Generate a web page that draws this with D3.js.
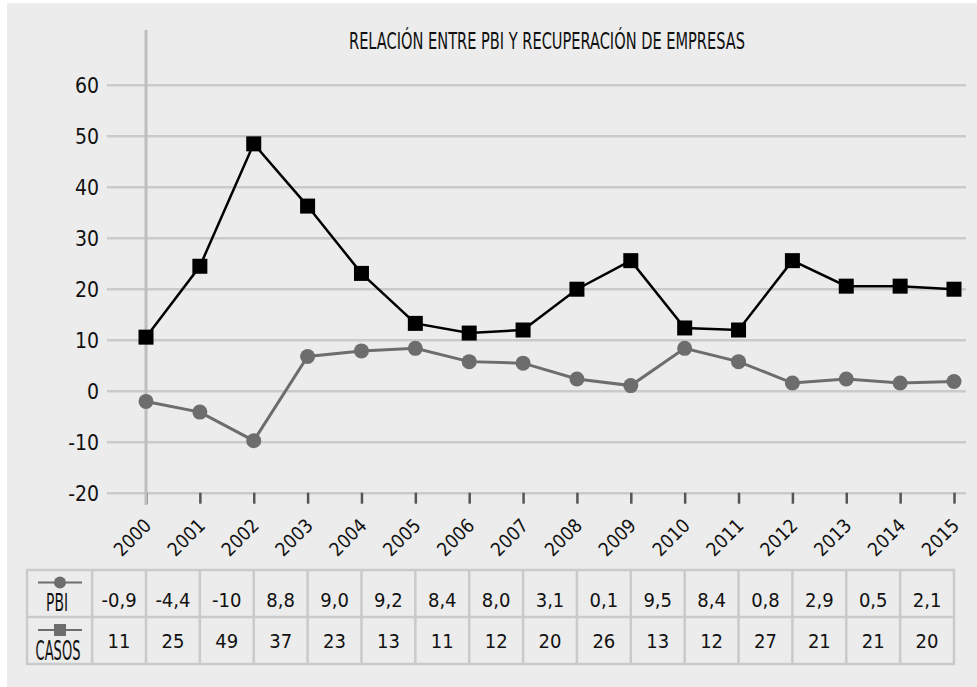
<!DOCTYPE html>
<html lang="es">
<head>
<meta charset="UTF-8">
<title>Relación entre PBI y recuperación de empresas</title>
<style>
  html, body { margin: 0; padding: 0; background: #fff; }
  svg text { font-family: "Liberation Sans Narrow", "DejaVu Sans Condensed", "Roboto", sans-serif; fill: #111; }
</style>
</head>
<body>
<script src="https://cdn.jsdelivr.net/npm/d3@7"></script>
<script>
  // datos
  const years = [2000, 2001, 2002, 2003, 2004, 2005, 2006, 2007, 2008, 2009, 2010, 2011, 2012, 2013, 2014, 2015]
  // valores dibujados en el gráfico
  const casos = [10.5, 24.4, 48.4, 36.2, 23, 13.2, 11.3, 11.9, 19.9, 25.5, 12.3, 11.9, 25.5, 20.5, 20.5, 19.9]
  const pbi = [-2.1, -4.2, -9.8, 6.7, 7.8, 8.3, 5.7, 5.4, 2.3, 1.0, 8.3, 5.7, 1.5, 2.3, 1.5, 1.8]
  // valores de la tabla
  const pbiTabla = ['-0,9', '-4,4', '-10', '8,8', '9,0', '9,2', '8,4', '8,0', '3,1', '0,1', '9,5', '8,4', '0,8', '2,9', '0,5', '2,1']
  const casosTabla = ['11', '25', '49', '37', '23', '13', '11', '12', '20', '26', '13', '12', '27', '21', '21', '20']
  const yTicks = [-20, -10, 0, 10, 20, 30, 40, 50, 60]
  const title = 'RELACIÓN ENTRE PBI Y RECUPERACIÓN DE EMPRESAS'

  const width = 977, height = 687
  const gridColor = '#c9cacb'
  const grayLine = '#6d6d6d'

  const svg = d3.select('body').append('svg')
    .attr('width', width)
    .attr('height', height)

  // fondo
  svg.append('rect')
    .attr('x', 7).attr('y', 3)
    .attr('width', width - 7).attr('height', height - 3)
    .attr('fill', '#ebeceb')

  const x = d3.scalePoint().domain(years).range([146, 954])
  const y = d3.scaleLinear().domain([-20, 60]).range([492.7, 84.7])

  // líneas de la grilla + etiquetas eje y
  const gridLeft = 107, gridRight = 966
  const yAxis = svg.append('g')
    .attr('transform', `translate(${gridLeft},0)`)
    .call(d3.axisLeft(y).tickValues(yTicks).tickFormat(d => String(d))
      .tickSize(-(gridRight - gridLeft)).tickPadding(8))
  yAxis.select('.domain').remove()
  yAxis.selectAll('.tick line').attr('stroke', gridColor).attr('stroke-width', 2.5)
  yAxis.selectAll('.tick text')
    .attr('font-size', 21)
    .attr('x', -8)
    .attr('dy', '0.36em')

  // eje x
  const xAxis = svg.append('g')
    .attr('transform', `translate(0,${y(-20)})`)
    .call(d3.axisBottom(x).tickSize(11))
  xAxis.select('.domain').remove()
  xAxis.selectAll('.tick line').attr('stroke', '#555').attr('stroke-width', 2.5)
  xAxis.selectAll('.tick text')
    .attr('font-size', 19)
    .attr('x', 0).attr('y', 0).attr('dy', 0)
    .attr('text-anchor', 'end')
    .attr('transform', 'translate(6,34) rotate(-45)')

  // eje vertical
  svg.append('line')
    .attr('x1', x(2000)).attr('x2', x(2000))
    .attr('y1', 30).attr('y2', 505)
    .attr('stroke', '#bdbebf').attr('stroke-width', 3)

  // título
  svg.append('text')
    .attr('x', 349).attr('y', 49)
    .attr('font-size', 23)
    .attr('textLength', 396)
    .attr('lengthAdjust', 'spacingAndGlyphs')
    .text(title)

  // serie PBI
  const linea = d3.line().x((d, i) => x(years[i])).y(d => y(d))
  svg.append('path')
    .datum(pbi)
    .attr('d', linea)
    .attr('fill', 'none')
    .attr('stroke', grayLine)
    .attr('stroke-width', 3)
  svg.selectAll('circle.pbi')
    .data(pbi)
    .enter()
    .append('circle')
    .attr('class', 'pbi')
    .attr('cx', (d, i) => x(years[i]))
    .attr('cy', d => y(d))
    .attr('r', 7.5)
    .attr('fill', grayLine)

  // serie CASOS
  svg.append('path')
    .datum(casos)
    .attr('d', linea)
    .attr('fill', 'none')
    .attr('stroke', '#000')
    .attr('stroke-width', 2.5)
  const sq = 15
  svg.selectAll('rect.casos')
    .data(casos)
    .enter()
    .append('rect')
    .attr('class', 'casos')
    .attr('x', (d, i) => x(years[i]) - sq / 2)
    .attr('y', d => y(d) - sq / 2)
    .attr('width', sq)
    .attr('height', sq)
    .attr('fill', '#000')

  // tabla
  const step = x.step()
  const tTop = 570, rowH = 47
  const tLeft = 27
  const tRight = x(2015)
  const firstCol = x(2000) - step
  const tabla = svg.append('g')

  tabla.append('rect')
    .attr('x', tLeft).attr('y', tTop)
    .attr('width', tRight - tLeft).attr('height', rowH * 2)
    .attr('fill', 'none')
    .attr('stroke', gridColor).attr('stroke-width', 2.5)
  tabla.append('line')
    .attr('x1', tLeft).attr('x2', tRight)
    .attr('y1', tTop + rowH).attr('y2', tTop + rowH)
    .attr('stroke', gridColor).attr('stroke-width', 2.5)
  tabla.selectAll('line.col')
    .data([firstCol].concat(years.slice(0, -1).map(x)))
    .enter()
    .append('line')
    .attr('class', 'col')
    .attr('x1', d => d).attr('x2', d => d)
    .attr('y1', tTop).attr('y2', tTop + rowH * 2)
    .attr('stroke', gridColor).attr('stroke-width', 2.5)

  const cellCenter = (d, i) => x(years[i]) - step / 2
  tabla.selectAll('text.pbiv')
    .data(pbiTabla)
    .enter()
    .append('text')
    .attr('class', 'pbiv')
    .attr('x', cellCenter)
    .attr('y', tTop + 37)
    .attr('text-anchor', 'middle')
    .attr('font-size', 20)
    .text(d => d)
  tabla.selectAll('text.casosv')
    .data(casosTabla)
    .enter()
    .append('text')
    .attr('class', 'casosv')
    .attr('x', cellCenter)
    .attr('y', tTop + rowH + 31)
    .attr('text-anchor', 'middle')
    .attr('font-size', 20)
    .text(d => d)

  // leyenda dentro de la tabla
  const legX = 60
  tabla.append('line')
    .attr('x1', 38).attr('x2', 82)
    .attr('y1', 582.5).attr('y2', 582.5)
    .attr('stroke', grayLine).attr('stroke-width', 2)
  tabla.append('circle')
    .attr('cx', legX).attr('cy', 582.5).attr('r', 6)
    .attr('fill', grayLine)
  tabla.append('text')
    .attr('transform', 'translate(57,611) scale(0.7,1.12)')
    .attr('text-anchor', 'middle')
    .attr('font-size', 22)
    .text('PBI')
  tabla.append('line')
    .attr('x1', 38).attr('x2', 82)
    .attr('y1', 630).attr('y2', 630)
    .attr('stroke', grayLine).attr('stroke-width', 2)
  tabla.append('rect')
    .attr('x', legX - 6).attr('y', 624).attr('width', 12).attr('height', 12)
    .attr('fill', grayLine)
  tabla.append('text')
    .attr('transform', 'translate(58,660) scale(0.63,1.18)')
    .attr('text-anchor', 'middle')
    .attr('font-size', 23)
    .text('CASOS')
</script>
</body>
</html>
